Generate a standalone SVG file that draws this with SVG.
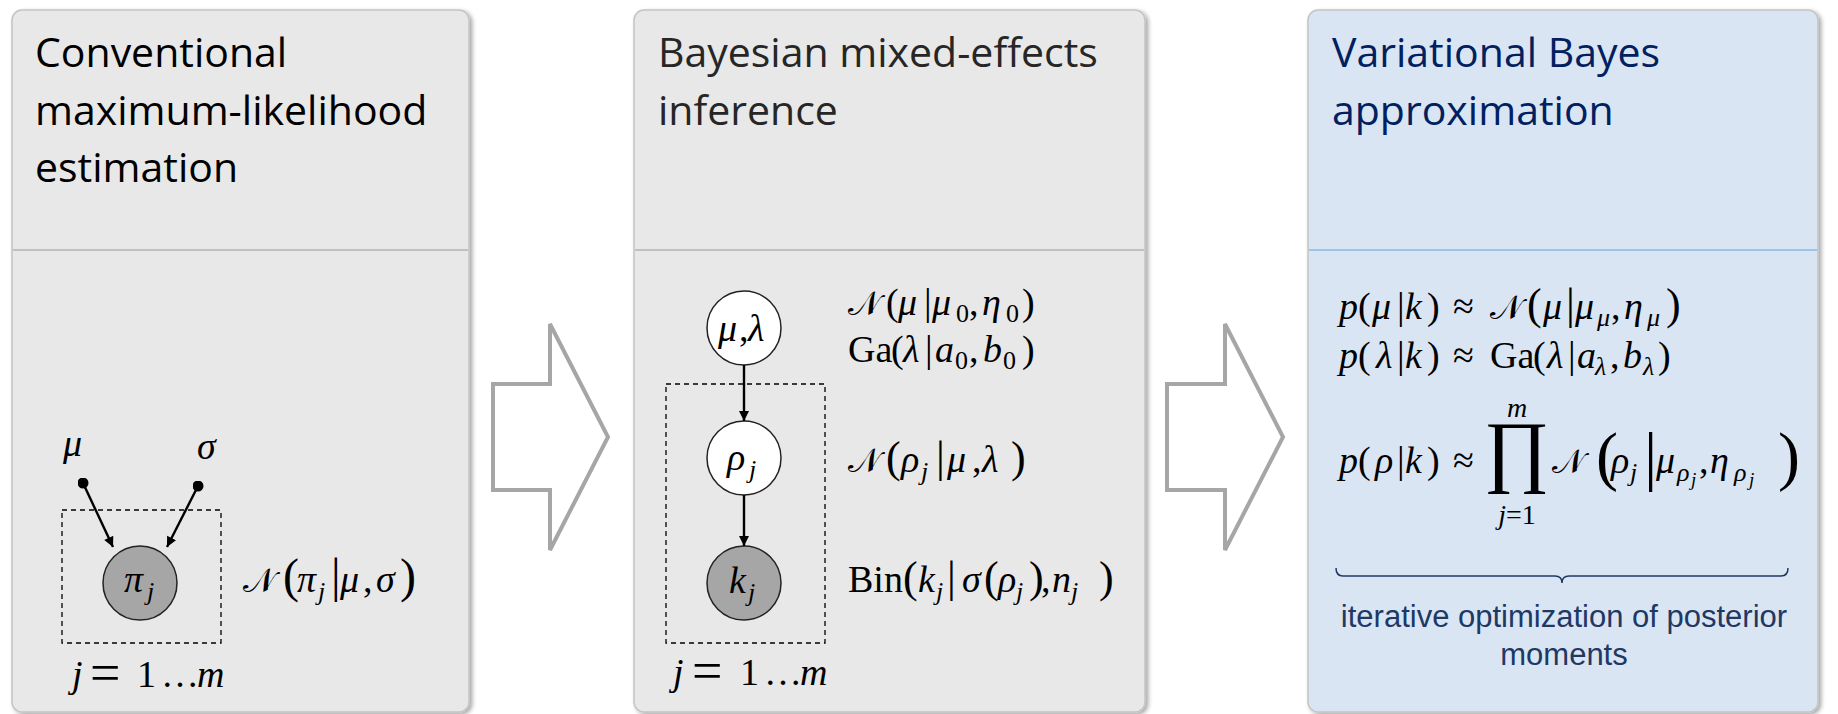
<svg xmlns="http://www.w3.org/2000/svg" width="1838" height="714" viewBox="0 0 1838 714">
<defs>
<filter id="sh" x="-5%" y="-5%" width="110%" height="110%">
<feDropShadow dx="2.5" dy="2" stdDeviation="2" flood-color="#000" flood-opacity="0.35"/>
</filter>
<marker id="ah" viewBox="0 0 10 10" refX="10" refY="5" markerWidth="11" markerHeight="10" orient="auto" markerUnits="userSpaceOnUse">
<path d="M0,0 L10,5 L0,10 z" fill="#000"/>
</marker>
<marker id="dot" viewBox="0 0 10 10" refX="5" refY="5" markerWidth="11" markerHeight="11" markerUnits="userSpaceOnUse">
<circle cx="5" cy="5" r="5" fill="#000"/>
</marker>
<style>
.panel{fill:#e8e8e8;stroke:#c4c4c4;stroke-width:1.5}
.panelb{fill:#dae5f3;stroke:#c4c4c4;stroke-width:1.5}
.div{stroke:#c0c0c0;stroke-width:2}
.divb{stroke:#9dc3e6;stroke-width:2}
.title{font-family:'Open Sans','Noto Sans',sans-serif;font-size:41px}
.m{font-family:'Liberation Serif','DejaVu Serif',serif;font-size:38px;font-style:italic;fill:#000}
.u{font-style:normal}
.s{font-size:26px}
.ss{font-size:19px}
.eq{font-size:54px;font-style:normal}
.p44{font-size:44px;font-style:normal}
.p48{font-size:48px;font-style:normal}
.p66{font-size:66px;font-style:normal}
.cal{font-family:'DejaVu Serif','DejaVu Sans',serif;font-style:normal;font-size:34px}
.plate{fill:none;stroke:#000;stroke-width:1.3;stroke-dasharray:5,4}
.nw{fill:#fff;stroke:#222;stroke-width:1.5}
.ng{fill:#a6a6a6;stroke:#222;stroke-width:1.5}
.edge{stroke:#000;stroke-width:2.4;fill:none}
.block{fill:#fff;stroke:#a6a6a6;stroke-width:4}
.note{font-family:'Liberation Sans',Arial,sans-serif;font-size:31px;fill:#203864}
</style>
</defs>
<rect width="1838" height="714" fill="#fff"/>

<g id="panel-mle">
<rect x="12" y="10" width="457" height="702" rx="10" class="panel" filter="url(#sh)"/>
<line x1="13" y1="250" x2="468" y2="250" class="div"/>
<text class="title" fill="#000"><tspan x="35" y="67">Conventional</tspan><tspan x="35" y="125">maximum-likelihood</tspan><tspan x="35" y="182">estimation</tspan></text>
</g>

<g id="panel-bayes">
<rect x="634" y="10" width="511" height="702" rx="10" class="panel" filter="url(#sh)"/>
<line x1="635" y1="250" x2="1144" y2="250" class="div"/>
<text class="title" fill="#262626"><tspan x="658" y="67">Bayesian mixed-effects</tspan><tspan x="658" y="125">inference</tspan></text>
</g>

<g id="panel-vb">
<rect x="1308" y="10" width="510" height="702" rx="10" class="panelb" filter="url(#sh)"/>
<line x1="1309" y1="250" x2="1817" y2="250" class="divb"/>
<text class="title" fill="#002060"><tspan x="1332" y="67">Variational Bayes</tspan><tspan x="1332" y="125">approximation</tspan></text>
</g>

<g id="arrow-1"><polygon class="block" points="493,384 550,384 550,324 608,437 550,550 550,490 493,490"/></g>
<g id="arrow-2"><polygon class="block" points="1167,384 1225,384 1225,324 1283,437 1225,550 1225,490 1167,490"/></g>

<!-- Panel 1 graph -->
<g id="plate-1"><rect x="62" y="510" width="159" height="133" class="plate"/>
<text class="m" y="687"><tspan x="72">j</tspan><tspan x="90" y="691" class="eq">=</tspan><tspan x="137" y="687" class="u">1</tspan><tspan x="161" class="u">…</tspan><tspan x="197">m</tspan></text></g>
<g id="node-mu"><text class="m" x="63" y="456">μ</text></g>
<g id="node-sigma"><text class="m" x="197" y="459">σ</text></g>
<g id="node-pi"><circle cx="140" cy="583" r="37" class="ng"/>
<text class="m" y="592"><tspan x="124">π</tspan><tspan x="147" y="600" class="s">j</tspan></text></g>
<g id="dist-pi"><text class="m" y="592"><tspan x="243" class="cal">𝒩</tspan><tspan x="283" class="p48">(</tspan><tspan x="297">π</tspan><tspan x="318" y="600" class="s">j</tspan><tspan x="331" y="592" class="p48">|</tspan><tspan x="340">μ</tspan><tspan x="363" class="u">,</tspan><tspan x="376">σ</tspan><tspan x="400" class="p48">)</tspan></text></g>

<!-- Panel 2 graph -->
<g id="plate-2"><rect x="666" y="384" width="159" height="259" class="plate"/>
<text class="m" y="685"><tspan x="673">j</tspan><tspan x="692" y="689" class="eq">=</tspan><tspan x="740" y="685" class="u">1</tspan><tspan x="764" class="u">…</tspan><tspan x="800">m</tspan></text></g>
<g id="node-mulambda"><circle cx="744" cy="328" r="37" class="nw"/>
<text class="m" y="341"><tspan x="718">μ</tspan><tspan x="739" class="u">,</tspan><tspan x="748">λ</tspan></text></g>
<g id="node-rho"><circle cx="744" cy="458" r="37" class="nw"/>
<text class="m" y="470"><tspan x="727">ρ</tspan><tspan x="749" y="478" class="s">j</tspan></text></g>
<g id="node-k"><circle cx="744" cy="583" r="37" class="ng"/>
<text class="m" y="593"><tspan x="729">k</tspan><tspan x="748" y="601" class="s">j</tspan></text></g>
<g id="dist-prior"><text class="m" y="315"><tspan x="848" class="cal">𝒩</tspan><tspan x="886" class="u">(</tspan><tspan x="898">μ</tspan><tspan x="924" class="u">|</tspan><tspan x="932">μ</tspan><tspan x="956" y="322" class="s u">0</tspan><tspan x="969" y="315" class="u">,</tspan><tspan x="982">η</tspan><tspan x="1006" y="322" class="s u">0</tspan><tspan x="1022" y="315" class="u">)</tspan></text>
<text class="m" y="362"><tspan x="848" class="u">Ga</tspan><tspan x="891" class="u">(</tspan><tspan x="903">λ</tspan><tspan x="925" class="u">|</tspan><tspan x="935">a</tspan><tspan x="955" y="369" class="s u">0</tspan><tspan x="969" y="362" class="u">,</tspan><tspan x="983">b</tspan><tspan x="1003" y="369" class="s u">0</tspan><tspan x="1022" y="362" class="u">)</tspan></text></g>
<g id="dist-rho"><text class="m" y="472"><tspan x="848" class="cal">𝒩</tspan><tspan x="886" class="p44">(</tspan><tspan x="901">ρ</tspan><tspan x="921" y="480" class="s">j</tspan><tspan x="936" y="472" class="p44">|</tspan><tspan x="947">μ</tspan><tspan x="972" class="u">,</tspan><tspan x="982">λ</tspan><tspan x="1011" class="p44">)</tspan></text></g>
<g id="dist-k"><text class="m" y="592"><tspan x="848" class="u">Bin</tspan><tspan x="903" class="p44">(</tspan><tspan x="918">k</tspan><tspan x="936" y="600" class="s">j</tspan><tspan x="947" y="592" class="p44">|</tspan><tspan x="962">σ</tspan><tspan x="984" class="p44">(</tspan><tspan x="998">ρ</tspan><tspan x="1016" y="600" class="s">j</tspan><tspan x="1029" y="592" class="p44">)</tspan><tspan x="1041" class="u">,</tspan><tspan x="1052">n</tspan><tspan x="1071" y="600" class="s">j</tspan><tspan x="1099" y="592" class="p44">)</tspan></text></g>

<!-- Panel 3 -->
<g id="post-mu"><text class="m" y="319"><tspan x="1339">p</tspan><tspan x="1358" class="u">(</tspan><tspan x="1372">μ</tspan><tspan x="1397" class="u">|</tspan><tspan x="1405">k</tspan><tspan x="1427" class="u">)</tspan><tspan x="1453" class="u">≈</tspan><tspan x="1490" class="cal">𝒩</tspan><tspan x="1527" class="p44">(</tspan><tspan x="1543">μ</tspan><tspan x="1566" class="p44">|</tspan><tspan x="1575">μ</tspan><tspan x="1597" y="326" class="s">μ</tspan><tspan x="1611" y="319" class="u">,</tspan><tspan x="1624">η</tspan><tspan x="1647" y="326" class="s">μ</tspan><tspan x="1666" y="319" class="p44">)</tspan></text></g>
<g id="post-lambda"><text class="m" y="368"><tspan x="1339">p</tspan><tspan x="1358" class="u">(</tspan><tspan x="1376">λ</tspan><tspan x="1397" class="u">|</tspan><tspan x="1405">k</tspan><tspan x="1427" class="u">)</tspan><tspan x="1453" class="u">≈</tspan><tspan x="1490" class="u">Ga</tspan><tspan x="1533" class="u">(</tspan><tspan x="1547">λ</tspan><tspan x="1568" class="u">|</tspan><tspan x="1577">a</tspan><tspan x="1595" y="375" class="s">λ</tspan><tspan x="1610" y="368" class="u">,</tspan><tspan x="1623">b</tspan><tspan x="1643" y="375" class="s">λ</tspan><tspan x="1658" y="368" class="u">)</tspan></text></g>
<g id="post-rho"><text class="m" y="473"><tspan x="1339">p</tspan><tspan x="1358" class="u">(</tspan><tspan x="1375">ρ</tspan><tspan x="1397" class="u">|</tspan><tspan x="1405">k</tspan><tspan x="1427" class="u">)</tspan><tspan x="1453" class="u">≈</tspan></text>
<text class="m u" x="1517" y="477" text-anchor="middle" style="font-size:80px">∏</text>
<text class="m" x="1517" y="417" text-anchor="middle" style="font-size:28px">m</text>
<text class="m" x="1517" y="524" text-anchor="middle" style="font-size:28px">j<tspan class="u">=1</tspan></text>
<text class="m" y="473"><tspan x="1552" class="cal">𝒩</tspan><tspan x="1596" y="478" class="p66">(</tspan><tspan x="1611" y="473">ρ</tspan><tspan x="1630" y="481" class="s">j</tspan><tspan x="1644" y="478" class="p66">|</tspan><tspan x="1656" y="473">μ</tspan><tspan x="1677" y="481" class="s">ρ</tspan><tspan x="1691" y="486" class="ss">j</tspan><tspan x="1699" y="473" class="u">,</tspan><tspan x="1710">η</tspan><tspan x="1734" y="481" class="s">ρ</tspan><tspan x="1749" y="486" class="ss">j</tspan><tspan x="1778" y="478" class="p66">)</tspan></text></g>
<g id="brace-note">
<path d="M1336,568 Q1336,576 1343,576 L1555,576 Q1562,576 1562,583 Q1562,576 1569,576 L1781,576 Q1788,576 1788,568" fill="none" stroke="#203864" stroke-width="1.5"/>
<text class="note" text-anchor="middle"><tspan x="1564" y="627">iterative optimization of posterior</tspan><tspan x="1564" y="665">moments</tspan></text>
</g>

<g id="connectors">
<line x1="83" y1="483" x2="113" y2="547" class="edge" marker-start="url(#dot)" marker-end="url(#ah)"/>
<line x1="198" y1="486" x2="167" y2="547" class="edge" marker-start="url(#dot)" marker-end="url(#ah)"/>
<line x1="744" y1="365" x2="744" y2="421" class="edge" marker-end="url(#ah)"/>
<line x1="744" y1="495" x2="744" y2="546" class="edge" marker-end="url(#ah)"/>
</g>
</svg>
